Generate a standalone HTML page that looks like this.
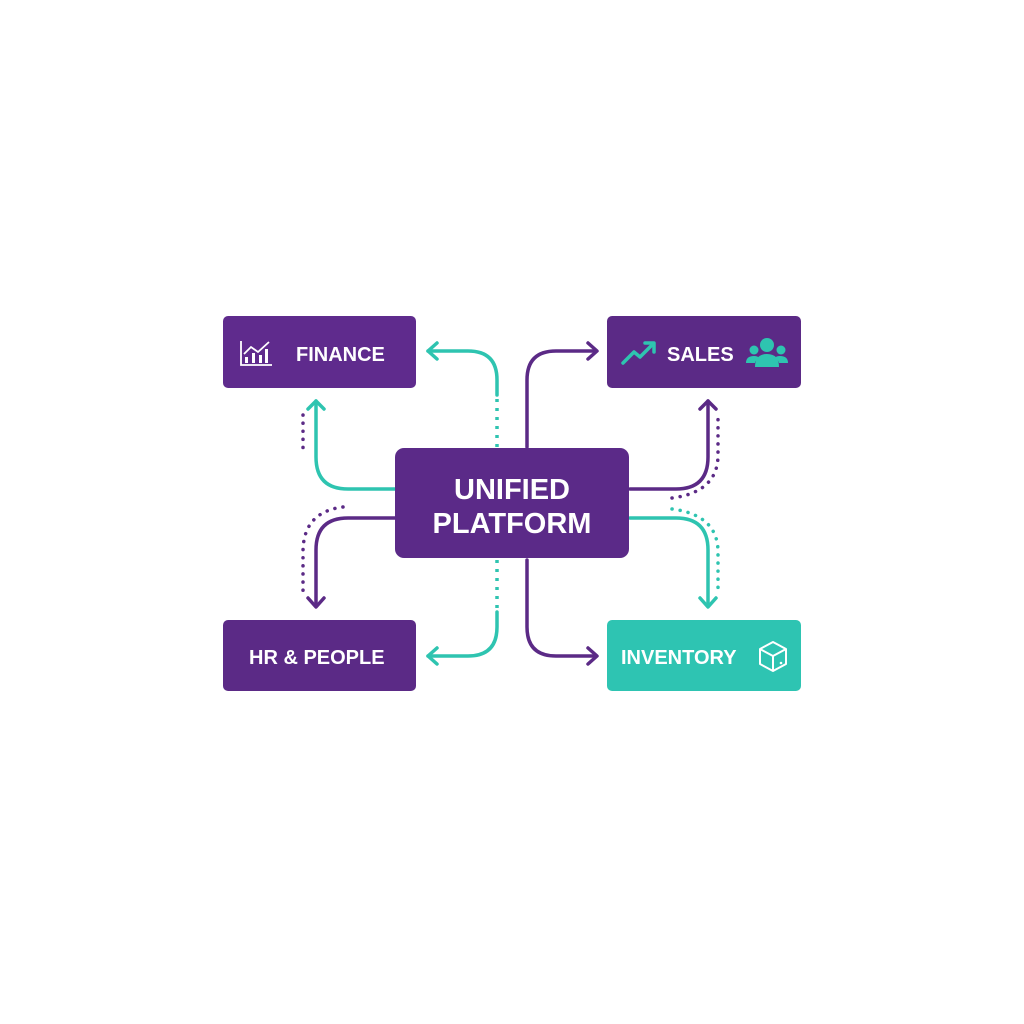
<!DOCTYPE html>
<html><head><meta charset="utf-8"><style>
html,body{margin:0;padding:0;background:#fff;}
svg{display:block}
text{font-family:"Liberation Sans",sans-serif;font-weight:bold;fill:#fff}
</style></head><body>
<svg width="1024" height="1024" viewBox="0 0 1024 1024" xmlns="http://www.w3.org/2000/svg">
<rect width="1024" height="1024" fill="#fff"/>
<g fill="none" stroke-width="3.5" stroke-linecap="round" stroke-linejoin="round">
<path d="M497,447 V397" stroke="#2ec4b0" stroke-dasharray="3,6" stroke-linecap="butt"/>
<path d="M497,395 V380 Q497,351 468,351 H428" stroke="#2ec4b0"/>
<path d="M437,343 L428,351 L437,359" stroke="#2ec4b0"/>
<path d="M395,489 H348 Q316,489 316,457 V401" stroke="#2ec4b0"/>
<path d="M308,409 L316,401 L324,409" stroke="#2ec4b0"/>
<path d="M303,415 V452" stroke="#5b2a86" stroke-dasharray="0.1,8"/>
<path d="M527,447 V380 Q527,351 556,351 H596" stroke="#5b2a86"/>
<path d="M588,343 L597,351 L588,359" stroke="#5b2a86"/>
<path d="M630,489 H676 Q708,489 708,457 V401" stroke="#5b2a86"/>
<path d="M700,409 L708,401 L716,409" stroke="#5b2a86"/>
<path d="M672,498 Q718,492 718,455 V415" stroke="#5b2a86" stroke-dasharray="0.1,8"/>
<path d="M630,518 H676 Q708,518 708,550 V606" stroke="#2ec4b0"/>
<path d="M700,598 L708,607 L716,598" stroke="#2ec4b0"/>
<path d="M672,509 Q718,515 718,552 V592" stroke="#2ec4b0" stroke-dasharray="0.1,8"/>
<path d="M395,518 H348 Q316,518 316,550 V606" stroke="#5b2a86"/>
<path d="M308,598 L316,607 L324,598" stroke="#5b2a86"/>
<path d="M343,507 Q303,512 303,552 V592" stroke="#5b2a86" stroke-dasharray="0.1,8"/>
<path d="M497,560 V610" stroke="#2ec4b0" stroke-dasharray="3,6" stroke-linecap="butt"/>
<path d="M497,612 V627 Q497,656 468,656 H428" stroke="#2ec4b0"/>
<path d="M437,648 L428,656 L437,664" stroke="#2ec4b0"/>
<path d="M527,560 V627 Q527,656 556,656 H596" stroke="#5b2a86"/>
<path d="M588,648 L597,656 L588,664" stroke="#5b2a86"/>
</g>
<rect x="223" y="316" width="193" height="72" rx="5" fill="#5f2b8d"/>
<rect x="607" y="316" width="194" height="72" rx="5" fill="#5b2a86"/>
<rect x="223" y="620" width="193" height="71" rx="5" fill="#5b2a86"/>
<rect x="607" y="620" width="194" height="71" rx="5" fill="#2ec4b2"/>
<rect x="395" y="448" width="234" height="110" rx="9" fill="#5b2a88"/>
<text x="296" y="361" font-size="20">FINANCE</text>
<text x="667" y="361" font-size="20">SALES</text>
<text x="249" y="664" font-size="20">HR &amp; PEOPLE</text>
<text x="621" y="664" font-size="20">INVENTORY</text>
<text x="512" y="499" font-size="29" text-anchor="middle">UNIFIED</text>
<text x="512" y="533" font-size="29" text-anchor="middle">PLATFORM</text>
<g stroke="#fff" stroke-width="1.8" fill="none">
<path d="M241,341 V365 H272"/>
<path d="M244,354 L251,347 L258,352 L269,342"/>
</g>
<g fill="#fff"><rect x="245" y="357" width="3" height="6"/><rect x="252" y="353" width="3" height="10"/><rect x="259" y="355" width="3" height="8"/><rect x="265" y="349" width="3" height="14"/></g>
<g stroke="#2ec4b0" stroke-width="3.5" fill="none" stroke-linecap="round" stroke-linejoin="round">
<path d="M623,363 L634,352 L640,357 L652,345"/>
<path d="M645,343 H654 V352"/>
</g>
<g fill="#2ec4b0">
<circle cx="767" cy="345" r="7"/><circle cx="754" cy="350" r="4.5"/><circle cx="781" cy="350" r="4.5"/>
<path d="M755,367 Q755,354 767,354 Q779,354 779,367 Z"/>
<path d="M746,363 Q746,356 754,356 Q758,356 759,358 Q755,361 755,363 Z"/>
<path d="M788,363 Q788,356 780,356 Q776,356 775,358 Q779,361 779,363 Z"/>
</g>
<g stroke="#fff" stroke-width="2" fill="none" stroke-linejoin="round">
<path d="M773,642 L786,649 V664 L773,671 L760,664 V649 Z"/>
<path d="M760,649 L773,656 L786,649 M773,656 V671"/>
</g>
<circle cx="781" cy="663" r="1.3" fill="#fff"/>
</svg>
</body></html>
